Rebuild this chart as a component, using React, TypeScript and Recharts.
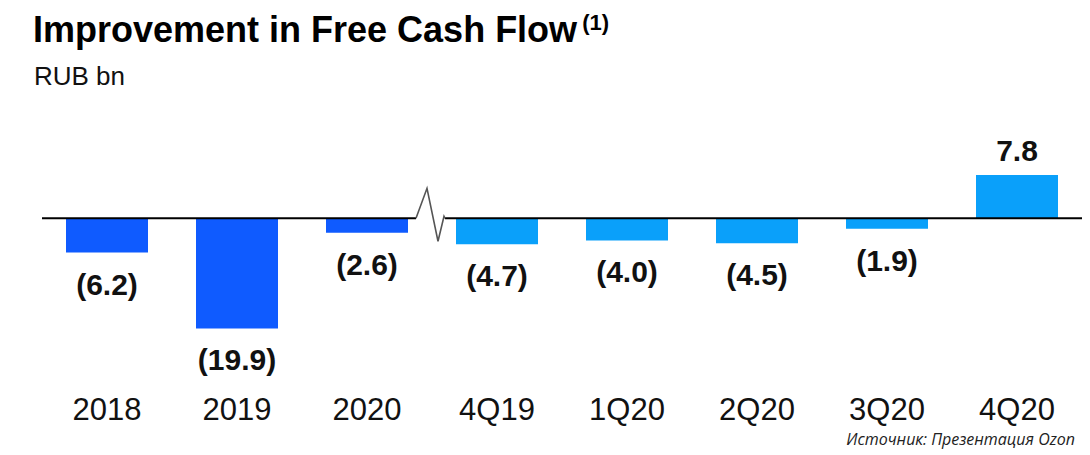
import React from 'react';
import { BarChart, Bar, XAxis, YAxis, ReferenceLine, LabelList, Cell } from 'recharts';

const categories = ['2018', '2019', '2020', '4Q19', '1Q20', '2Q20', '3Q20', '4Q20'];
const fcfValues = [-6.2, -19.9, -2.6, -4.7, -4.0, -4.5, -1.9, 7.8];
const periodKinds = ['year', 'year', 'year', 'quarter', 'quarter', 'quarter', 'quarter', 'quarter'];
const breakBeforeIndex = 3;

const data = categories.map((c, i) => ({ name: c, value: fcfValues[i], kind: periodKinds[i] }));

const COLORS: Record<string, string> = { year: '#0F5BFF', quarter: '#0AA0FA' };
const FONT = '"Liberation Sans", Arial, sans-serif';

const fmt = (v: number) => (v < 0 ? `(${Math.abs(v).toFixed(1)})` : v.toFixed(1));

const ValueLabel = (props: any) => {
  const { x, y, width, height, value } = props;
  const top = Math.min(y, y + height);
  const bottom = Math.max(y, y + height);
  const cx = x + width / 2;
  const ty = value < 0 ? bottom + 42 : top - 14;
  return (
    <text x={cx} y={ty} textAnchor="middle" fontFamily={FONT} fontWeight="bold" fontSize={30} fill="#111">
      {fmt(value)}
    </text>
  );
};

const CategoryTick = (props: any) => {
  const { x, y, payload } = props;
  return (
    <text x={x} y={y + 83} textAnchor="middle" fontFamily={FONT} fontSize={31} fill="#111">
      {payload.value}
    </text>
  );
};

const BreakMark = (props: any) => {
  const vb = props.viewBox || {};
  const bx = vb.x + (vb.width * breakBeforeIndex) / categories.length;
  const y = vb.y;
  const pts = [
    [bx - 16, y],
    [bx - 5, y - 30],
    [bx + 6, y + 23],
    [bx + 12, y - 2],
    [bx + 13, y],
  ]
    .map((p) => p.join(','))
    .join(' ');
  return (
    <g>
      <rect x={bx - 16} y={y - 3} width={29} height={6} fill="#fff" />
      <polyline points={pts} fill="none" stroke="#555" strokeWidth={1.6} />
    </g>
  );
};

export default function App() {
  return (
    <div style={{ position: 'absolute', left: 0, top: 0, width: 1090, height: 455, background: '#fff', overflow: 'hidden' }}>
      <div style={{ position: 'absolute', left: 33, top: 9, fontFamily: FONT, fontWeight: 'bold', fontSize: 36, color: '#000', whiteSpace: 'nowrap' }}>
        Improvement in Free Cash Flow
        <span style={{ fontSize: 22, position: 'relative', top: -12, marginLeft: 5 }}>(1)</span>
      </div>
      <div style={{ position: 'absolute', left: 34, top: 61, fontFamily: FONT, fontSize: 26, color: '#111', whiteSpace: 'nowrap' }}>
        RUB bn
      </div>
      <div style={{ position: 'absolute', right: 15, top: 428, fontFamily: '"Open Sans", sans-serif', fontStyle: 'italic', fontSize: 16, color: '#222', whiteSpace: 'nowrap' }}>
        Источник: Презентация Ozon
      </div>
      <div style={{ position: 'absolute', left: 0, top: 0 }}>
        <BarChart width={1090} height={455} data={data} margin={{ top: 174, right: 8, bottom: 38, left: 42 }}>
          <XAxis dataKey="name" axisLine={false} tickLine={false} height={88} tick={<CategoryTick />} interval={0} />
          <YAxis hide domain={[-20, 8]} />
          <Bar dataKey="value" barSize={82} isAnimationActive={false}>
            {data.map((d, i) => (
              <Cell key={i} fill={COLORS[d.kind]} />
            ))}
            <LabelList dataKey="value" content={<ValueLabel />} />
          </Bar>
          <ReferenceLine y={0} stroke="#000" strokeWidth={2} label={<BreakMark />} />
        </BarChart>
      </div>
    </div>
  );
}
